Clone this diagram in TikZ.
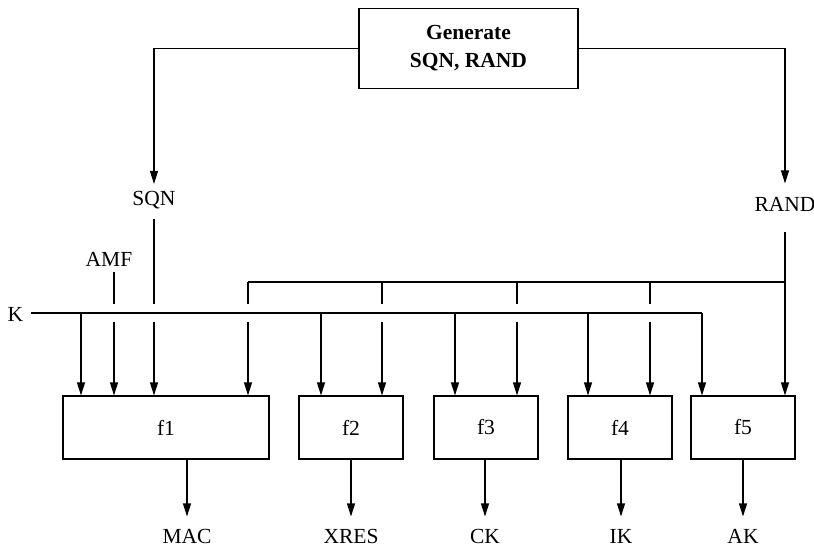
\documentclass[tikz,border=0pt]{standalone}
\usepackage{fontspec}
\setmainfont{Liberation Serif}
\usetikzlibrary{arrows.meta}
\begin{document}
\begin{tikzpicture}[x=1pt,y=-1pt,
  line width=1.1pt,
  every node/.style={font=\fontsize{21.5}{26.5}\selectfont},
  arr/.style={-{Triangle[width=8pt,length=13pt]}},
  genbox/.style={draw, minimum width=219pt, minimum height=80pt, inner sep=0pt,
    align=center, font=\fontsize{21.5}{28}\selectfont\bfseries},
  fbox/.style={draw, minimum height=63pt, inner sep=0pt},
  lbl/.style={inner sep=0pt, text height=14.5pt, text depth=0pt, anchor=base}]
\useasboundingbox (0,0) rectangle (814,548);

% key generator
\node[genbox] (gen) at (468.5,48.5) {Generate\\SQN, RAND};

% function blocks
\node[fbox, minimum width=206pt] (f1) at (166,427.5) {f1};
\node[fbox, minimum width=104pt] (f2) at (351,427.5) {f2};
\node[fbox, minimum width=104pt] (f3) at (486,427.5) {f3};
\node[fbox, minimum width=104pt] (f4) at (620,427.5) {f4};
\node[fbox, minimum width=104pt] (f5) at (743,427.5) {f5};

% input labels
\node[lbl] (sqn)  at (154,206) {SQN};
\node[lbl] (rand) at (785,212) {RAND};
\node[lbl] (amf)  at (109,266) {AMF};
\node[lbl] (k)    at (15.5,321) {K};

% output labels
\node[lbl] (mac)  at (187,543) {MAC};
\node[lbl] (xres) at (351,543) {XRES};
\node[lbl] (ck)   at (485,543) {CK};
\node[lbl] (ik)   at (621,543) {IK};
\node[lbl] (ak)   at (743,543) {AK};

% crossing gap above and below the K line
\coordinate (hopup) at (0,304);
\coordinate (hopdn) at (0,322);

% K line taps
\coordinate (k1) at (81,313);
\coordinate (k2) at (321,313);
\coordinate (k3) at (455,313);
\coordinate (k4) at (588,313);
\coordinate (k5) at (702,313);

% RAND bus taps
\coordinate (r1) at (248,282);
\coordinate (r2) at (382,282);
\coordinate (r3) at (517,282);
\coordinate (r4) at (650,282);
\coordinate (r5) at (785,282);

% AMF feed
\coordinate (amfx) at (114,272);

% generator outputs
\draw[arr, shorten >=7pt] (gen.west) -| (sqn.north);
\draw[arr, shorten >=13.5pt] (gen.east) -| (rand.north);

% SQN into f1
\draw[shorten <=13pt] (sqn.base) -- (sqn.base |- hopup);
\draw[arr] (sqn.base |- hopdn) -- (sqn.base |- f1.north);

% AMF into f1
\draw (amfx) -- (amfx |- hopup);
\draw[arr] (amfx |- hopdn) -- (amfx |- f1.north);

% K line and its taps
\draw[shorten <=7pt] (k.east |- k1) -- (k5);
\draw[arr] (k1) -- (k1 |- f1.north);
\draw[arr] (k2) -- (k2 |- f2.north);
\draw[arr] (k3) -- (k3 |- f3.north);
\draw[arr] (k4) -- (k4 |- f4.north);
\draw[arr] (k5) -- (k5 |- f5.north);

% RAND line and bus
\draw[arr, shorten <=20pt] (rand.base) -- (rand.base |- f5.north);
\draw (r1) -- (r5);
\foreach \r/\f in {r1/f1, r2/f2, r3/f3, r4/f4} {
  \draw (\r) -- (\r |- hopup);
  \draw[arr] (\r |- hopdn) -- (\r |- \f.north);
}

% outputs
\draw[arr, shorten >=11.5pt] (f1.south -| mac) -- (mac.north);
\draw[arr, shorten >=11.5pt] (f2.south -| xres) -- (xres.north);
\draw[arr, shorten >=11.5pt] (f3.south -| ck) -- (ck.north);
\draw[arr, shorten >=11.5pt] (f4.south -| ik) -- (ik.north);
\draw[arr, shorten >=11.5pt] (f5.south -| ak) -- (ak.north);
\end{tikzpicture}
\end{document}
